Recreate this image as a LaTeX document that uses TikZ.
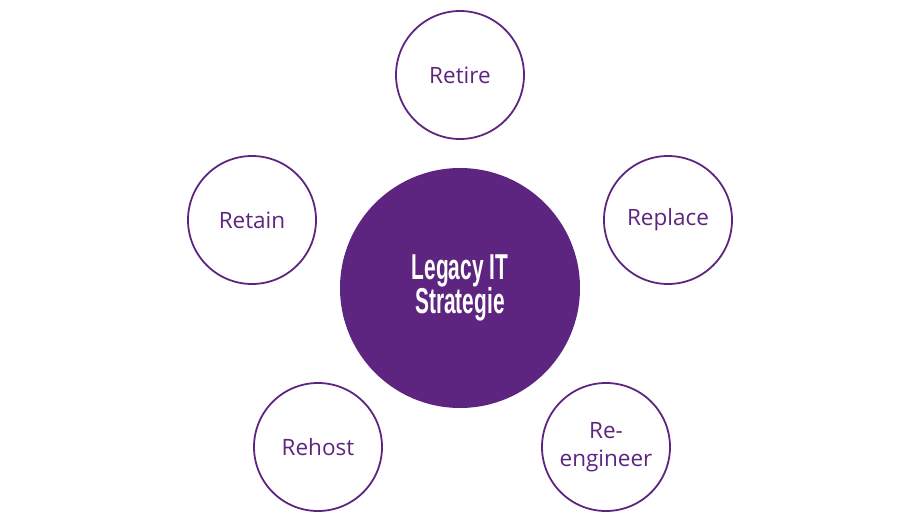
\documentclass[tikz,border=0pt]{standalone}
\usepackage{fontspec}
\setmainfont{Open Sans}
\newfontfamily\condfont{Liberation Sans}
\definecolor{strategypurple}{HTML}{5E2580}
\tikzset{
  option/.style={circle, draw=strategypurple, line width=1.8pt, minimum size=128pt,
    inner sep=0pt, text=strategypurple, align=center, font=\fontsize{22.5}{28}\selectfont},
  core/.style={circle, fill=strategypurple, minimum size=240pt, inner sep=0pt,
    text=white, align=center, font=\condfont\bfseries\fontsize{36}{32}\selectfont}
}
\begin{document}
\begin{tikzpicture}[x=1pt, y=-1pt]
\useasboundingbox (0,0) rectangle (920,527);
\node[core] (strategy) at (460,288) {\scalebox{0.58}[1]{Legacy IT}\\\scalebox{0.58}[1]{Strategie}};
\node[option] (retire) at (460,75) {Retire};
\node[option] (replace) at (668,220) {Replace};
\node[option] (retain) at (252,220) {Retain};
\node[option] (rehost) at (318,447) {Rehost};
\node[option] (reengineer) at (606,447) {Re-\\engineer};
\end{tikzpicture}
\end{document}
